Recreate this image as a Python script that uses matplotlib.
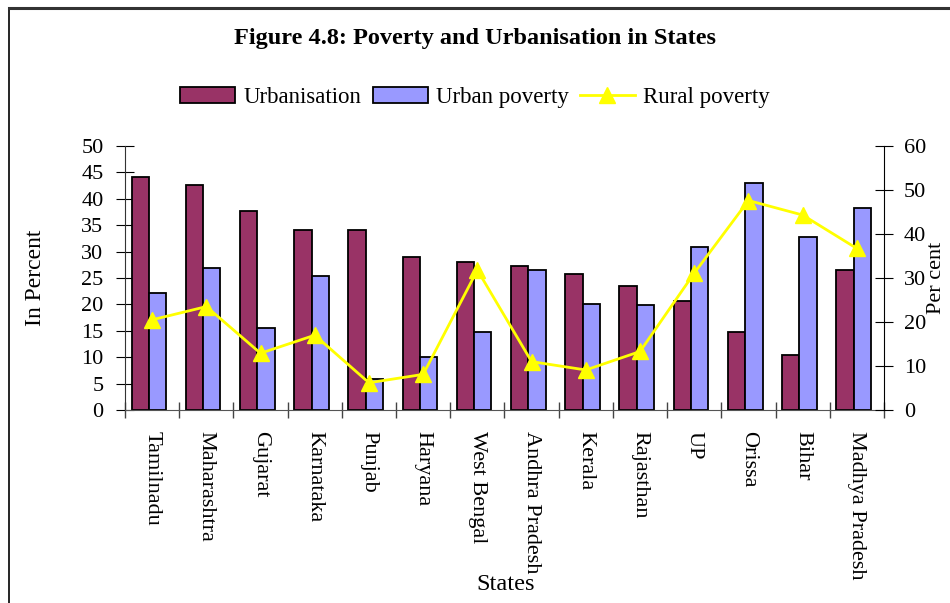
import numpy as np
import matplotlib.pyplot as plt
from matplotlib.lines import Line2D

plt.rcParams['font.family'] = ['Liberation Serif', 'DejaVu Serif']

states = ["Tamilnadu", "Maharashtra", "Gujarat", "Karnataka", "Punjab", "Haryana",
          "West Bengal", "Andhra Pradesh", "Kerala", "Rajasthan", "UP", "Orissa",
          "Bihar", "Madhya Pradesh"]
urbanisation = [44.2, 42.6, 37.6, 34.0, 34.0, 28.9, 28.0, 27.3, 25.8, 23.4, 20.6, 14.7, 10.4, 26.5]
urban_poverty = [22.2, 26.8, 15.5, 25.4, 5.8, 10.0, 14.7, 26.5, 20.1, 19.8, 30.8, 42.9, 32.8, 38.2]
rural_poverty = [20.5, 23.5, 12.9, 17.0, 6.2, 8.1, 31.8, 11.0, 9.1, 13.3, 31.1, 47.6, 44.3, 36.7]

fig = plt.figure(figsize=(9.5, 6.03), dpi=100)
ax = fig.add_axes([0.1316, 0.320, 0.7989, 0.438])
ax2 = ax.twinx()

x = np.arange(len(states))
w = 0.32
ax.bar(x - w / 2 - 0.06, urbanisation, w, color="#993366", edgecolor="black", linewidth=1.3, zorder=2)
ax.bar(x + w / 2 - 0.06, urban_poverty, w, color="#9999FF", edgecolor="black", linewidth=1.3, zorder=2)
ax2.plot(x, rural_poverty, color="#FFFF00", linewidth=2, marker="^", markersize=11, zorder=3)

ax.set_xlim(-0.5, len(states) - 0.5)
ax.set_ylim(0, 50)
ax.set_yticks(range(0, 51, 5))
ax2.set_ylim(0, 60)
ax2.set_yticks(range(0, 61, 10))

ax.set_xticks(np.arange(len(states) + 1) - 0.5)
ax.set_xticklabels([])
ax.set_xticks(x, minor=True)
ax.set_xticklabels(states, minor=True, rotation=-90, fontsize=16, va="top", ha="center")
ax.tick_params(axis="x", which="major", direction="inout", length=12, width=1, color="#444444")
ax.tick_params(axis="x", which="minor", length=0, pad=15)
ax.tick_params(axis="y", direction="inout", length=13, labelsize=16, pad=9)
ax2.tick_params(axis="y", direction="inout", length=13, labelsize=16, pad=8)

for a in (ax, ax2):
    a.spines["top"].set_visible(False)
ax.spines["right"].set_visible(False)
ax.spines["bottom"].set_color("#555555")
ax2.spines["bottom"].set_visible(False)
ax2.spines["left"].set_visible(False)
ax.spines["left"].set_color("#333333")

ax.set_ylabel("In Percent", fontsize=17)
ax.yaxis.set_label_coords(-0.104, 0.5)
ax2.set_ylabel("Per cent", fontsize=16)
ax2.yaxis.set_label_coords(1.057, 0.5)
fig.text(0.532, 0.030, "States", fontsize=17.5, ha="center", va="center")

fig.text(0.5, 0.936, "Figure 4.8: Poverty and Urbanisation in States", fontsize=17.5,
         fontweight="bold", ha="center", va="center")

handles = [
    plt.Rectangle((0, 0), 1, 1, facecolor="#993366", edgecolor="black", linewidth=1.3),
    plt.Rectangle((0, 0), 1, 1, facecolor="#9999FF", edgecolor="black", linewidth=1.3),
    Line2D([], [], color="#FFFF00", linewidth=2, marker="^", markersize=11),
]
fig.legend(handles, ["Urbanisation", "Urban poverty", "Rural poverty"], loc="center",
           bbox_to_anchor=(0.5, 0.838), ncol=3, frameon=False, fontsize=16.5,
           handlelength=2.4, handleheight=0.7, handletextpad=0.35, columnspacing=0.5)

# outer frame (left and top edges only)
fig.add_artist(Line2D([9 / 950, 9 / 950], [0, 1 - 8 / 603], color="black", linewidth=1.2,
                      transform=fig.transFigure))
fig.add_artist(Line2D([9 / 950, 1], [1 - 8 / 603, 1 - 8 / 603], color="#333333", linewidth=2.2,
                      transform=fig.transFigure))

fig.savefig("out.png", dpi=100)
